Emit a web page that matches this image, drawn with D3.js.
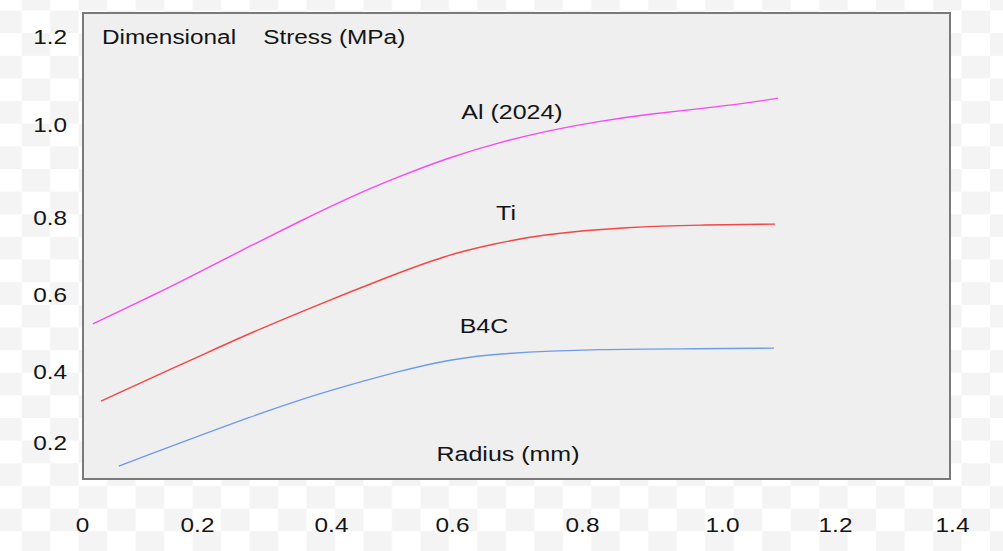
<!DOCTYPE html>
<html>
<head>
<meta charset="utf-8">
<script src="https://cdn.jsdelivr.net/npm/d3@7"></script>
<style>
  html, body { margin: 0; padding: 0; background: #ffffff; }
  svg { display: block; }
  text { font-family: "Liberation Sans", Arial, Helvetica, sans-serif; fill: #141414; }
</style>
</head>
<body>
<svg id="chart" width="1003" height="551"></svg>
<script>
// ---- data ----
const xTickValues = [0, 0.2, 0.4, 0.6, 0.8, 1.0, 1.2, 1.4];
const xTickLabels = ["0", "0.2", "0.4", "0.6", "0.8", "1.0", "1.2", "1.4"];
const yTickValues = [0.2, 0.4, 0.6, 0.8, 1.0, 1.2];
const yTickLabels = ["0.2", "0.4", "0.6", "0.8", "1.0", "1.2"];

const seriesNames = ["Al (2024)", "Ti", "B4C"];

const alRadius   = [0.019, 0.118, 0.204, 0.279, 0.354, 0.431, 0.514, 0.597, 0.674, 0.751, 0.826, 0.897, 0.969, 1.050, 1.099];
const alStress   = [0.525, 0.595, 0.660, 0.727, 0.792, 0.845, 0.890, 0.931, 0.963, 0.989, 1.009, 1.025, 1.037, 1.051, 1.061];

const tiRadius   = [0.033, 0.227, 0.294, 0.384, 0.481, 0.592, 0.666, 0.735, 0.869, 0.969, 1.094];
const tiStress   = [0.318, 0.460, 0.512, 0.577, 0.639, 0.705, 0.733, 0.757, 0.777, 0.782, 0.784];

const b4cRadius  = [0.064, 0.294, 0.399, 0.514, 0.597, 0.674, 0.826, 0.969, 1.092];
const b4cStress  = [0.135, 0.285, 0.349, 0.403, 0.433, 0.449, 0.460, 0.460, 0.462];

const titleText  = "Dimensional    Stress (MPa)";
const xLabelText = "Radius (mm)";

// ---- drawing ----
const svg = d3.select("#chart");
const W = 1003, H = 551;
const SX = 1.25; // horizontal stretch of the original figure's text

// checkerboard backdrop
const cw = 28.48, ch = 22.64;
const defs = svg.append("defs");
const pat = defs.append("pattern")
  .attr("id", "checker")
  .attr("patternUnits", "userSpaceOnUse")
  .attr("x", 21.7).attr("y", 10.5)
  .attr("width", cw * 2).attr("height", ch * 2);
pat.append("rect").attr("width", cw * 2).attr("height", ch * 2).attr("fill", "#ffffff");
pat.append("rect").attr("x", cw).attr("y", 0).attr("width", cw).attr("height", ch).attr("fill", "#f4f4f4");
pat.append("rect").attr("x", 0).attr("y", ch).attr("width", cw).attr("height", ch).attr("fill", "#f4f4f4");
svg.append("rect").attr("width", W).attr("height", H).attr("fill", "url(#checker)");

// scales (the original axes are hand-spaced, so the tick positions are mapped piecewise)
const x = d3.scaleLinear()
  .domain(xTickValues)
  .range([82, 197, 331, 452, 582, 722, 835, 952]);
const y = d3.scaleLinear()
  .domain(yTickValues)
  .range([443, 372, 295, 218, 125, 37]);

// plot panel
const panel = { left: 83, top: 13, right: 950, bottom: 479 };
svg.append("rect")
  .attr("x", panel.left).attr("y", panel.top)
  .attr("width", panel.right - panel.left)
  .attr("height", panel.bottom - panel.top)
  .attr("fill", "#efefef")
  .attr("stroke", "#7a7a7a")
  .attr("stroke-width", 2);

// axes (labels only)
const xAxis = d3.axisBottom(x)
  .tickValues(xTickValues)
  .tickFormat((d, i) => xTickLabels[i])
  .tickSize(0).tickPadding(0);
const gx = svg.append("g").attr("transform", "translate(0,518)").call(xAxis);
gx.select(".domain").remove();
gx.selectAll("text")
  .attr("font-size", 19.5)
  .attr("font-family", null)
  .attr("fill", "#141414")
  .attr("transform", `scale(${SX},1)`);

const yAxis = d3.axisLeft(y)
  .tickValues(yTickValues)
  .tickFormat((d, i) => yTickLabels[i])
  .tickSize(0).tickPadding(0);
const gy = svg.append("g").attr("transform", "translate(67,0)").call(yAxis);
gy.select(".domain").remove();
gy.selectAll("text")
  .attr("font-size", 19.5)
  .attr("font-family", null)
  .attr("fill", "#141414")
  .attr("x", 0)
  .attr("transform", `scale(${SX},1)`);

// curves
const line = d3.line()
  .x(d => x(d[0]))
  .y(d => y(d[1]))
  .curve(d3.curveBasis);

const series = [
  { name: seriesNames[0], xs: alRadius,  ys: alStress,  color: "#f54af5" },
  { name: seriesNames[1], xs: tiRadius,  ys: tiStress,  color: "#f54545" },
  { name: seriesNames[2], xs: b4cRadius, ys: b4cStress, color: "#6e9bea" }
];
svg.append("g").selectAll("path")
  .data(series)
  .join("path")
  .attr("d", s => line(s.xs.map((v, i) => [v, s.ys[i]])))
  .attr("fill", "none")
  .attr("stroke", s => s.color)
  .attr("stroke-width", 1.4);

// text annotations
function label(px, py, str, anchor, size) {
  const g = svg.append("g").attr("transform", `translate(${px},${py}) scale(${SX},1)`);
  g.append("text")
    .attr("text-anchor", anchor)
    .attr("dy", "0.36em")
    .attr("font-size", size)
    .style("white-space", "pre")
    .text(str);
}
label(102, 37, titleText, "start", 19.5);
label(512, 112, seriesNames[0], "middle", 20);
label(506, 213, seriesNames[1], "middle", 20);
label(484, 326, seriesNames[2], "middle", 20);
label(508, 454, xLabelText, "middle", 20);
</script>
</body>
</html>
